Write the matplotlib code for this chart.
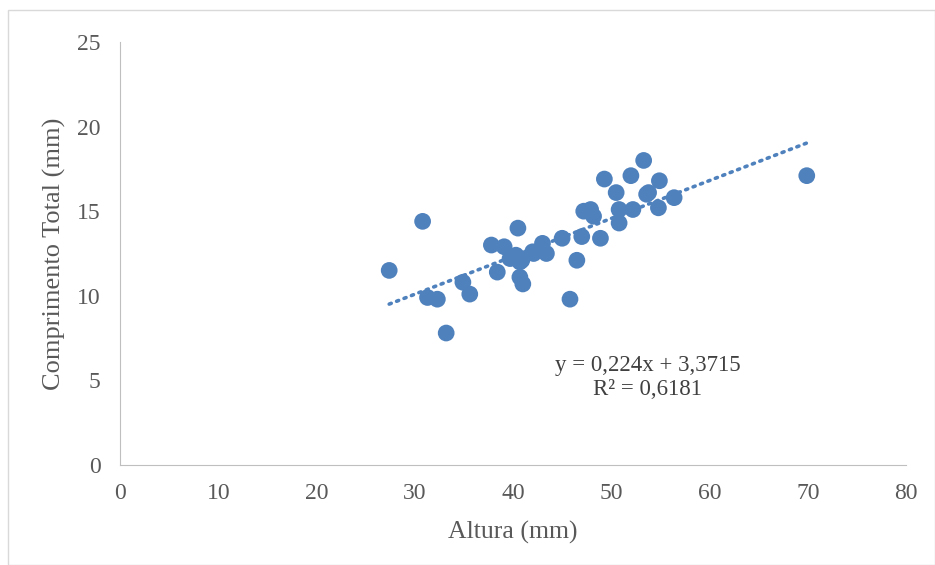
import matplotlib
matplotlib.use("Agg")
import matplotlib.pyplot as plt
from matplotlib.patches import Rectangle
import numpy as np

altura = [27.4, 30.8, 31.3, 32.3, 33.2, 34.9, 35.6, 37.8, 38.4, 39.1, 39.7, 40.3,
          40.7, 40.5, 40.7, 41.0, 42.0, 43.0, 43.4, 42.1, 40.9, 45.0, 45.8, 46.5,
          47.0, 47.2, 47.9, 48.2, 48.9, 49.3, 50.5, 50.8, 50.8, 52.0, 52.2, 53.3,
          53.6, 53.8, 54.9, 54.8, 56.4, 69.9]
comprimento = [11.5, 14.4, 9.9, 9.8, 7.8, 10.8, 10.1, 13.0, 11.4, 12.9, 12.2, 12.4,
               12.0, 14.0, 11.1, 10.7, 12.6, 13.1, 12.5, 12.5, 12.1, 13.4, 9.8, 12.1,
               13.5, 15.0, 15.1, 14.7, 13.4, 16.9, 16.1, 15.1, 14.3, 17.1, 15.1, 18.0,
               16.0, 16.1, 16.8, 15.2, 15.8, 17.1]
slope, intercept = 0.224, 3.3715
eq_text = "y = 0,224x + 3,3715\nR² = 0,6181"
xticks = [0, 10, 20, 30, 40, 50, 60, 70, 80]
yticks = [0, 5, 10, 15, 20, 25]

blue = "#4F81BD"
plt.rcParams['font.family'] = ['Liberation Serif', 'DejaVu Serif']

W, H = 935, 565
fig = plt.figure(figsize=(W/100, H/100), dpi=100)
fig.patches.append(Rectangle((8/W, 0), (W-8)/W, (H-10)/H, transform=fig.transFigure,
                             fill=False, edgecolor="#d9d9d9", linewidth=1.0))
ax = fig.add_axes([120/W, 1-465/H, (906-120)/W, (465-42)/H])
ax.set_xlim(0, 80)
ax.set_ylim(0, 25)

xs = np.array([min(altura), max(altura)])
ax.plot(xs, slope*xs + intercept, linestyle=(0, (0.6, 1.6)), dash_capstyle='round',
        color=blue, linewidth=2.6, zorder=2)
ax.scatter(altura, comprimento, s=145, color=blue, edgecolors='none', zorder=3)

ax.text(53.7, 5.15, eq_text, ha='center', va='center', fontsize=16.5, color="#404040",
        linespacing=1.2)

for s in ['top', 'right']:
    ax.spines[s].set_visible(False)
ax.spines['left'].set_color("#bfbfbf")
ax.spines['bottom'].set_color("#bfbfbf")
ax.set_xticks(xticks)
ax.set_yticks(yticks)
ax.tick_params(length=0, labelsize=17, colors="#595959")
ax.tick_params(axis='x', pad=13)
ax.tick_params(axis='y', pad=14)
ax.set_xlabel("Altura (mm)", fontsize=18.5, color="#595959", labelpad=12)
ax.set_ylabel("Comprimento Total (mm)", fontsize=19, color="#595959", labelpad=8)

fig.savefig("out.png", dpi=100)
